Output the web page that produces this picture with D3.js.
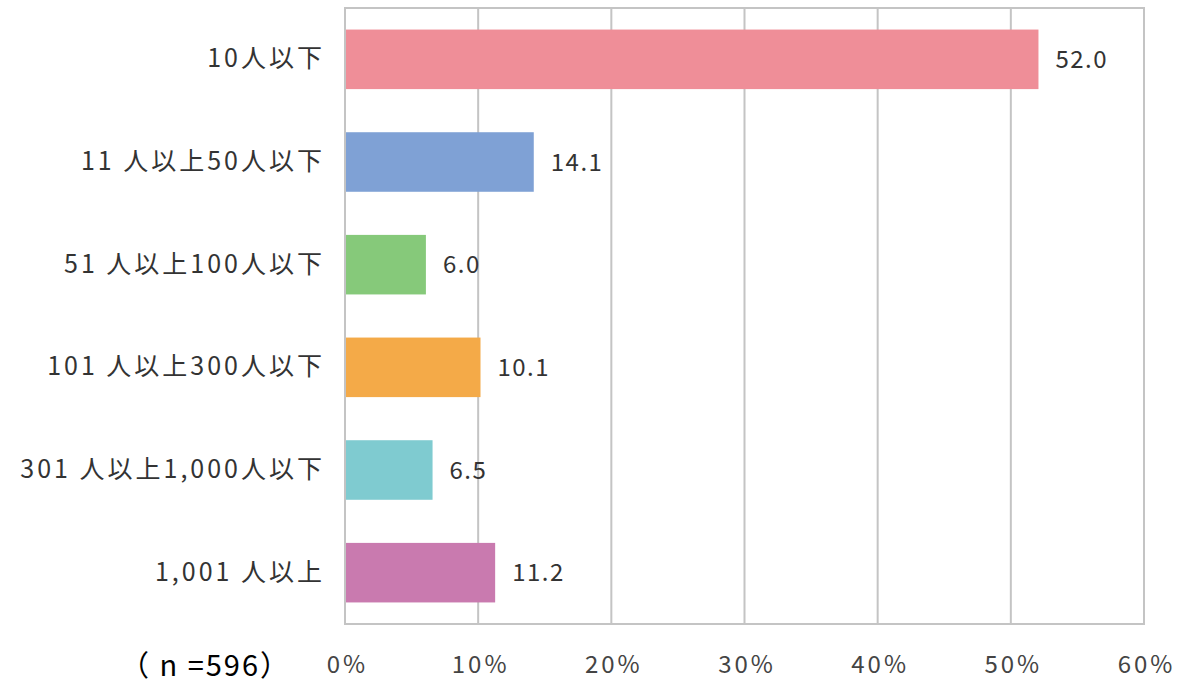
<!DOCTYPE html>
<html>
<head>
<meta charset="utf-8">
<title>従業員規模</title>
<script src="https://d3js.org/d3.v7.min.js"></script>
<style>
  body { margin: 0; background: #fff; }
  text { font-family: "Noto Sans CJK JP", "Noto Sans", sans-serif; }
</style>
</head>
<body>
<div id="output"></div>
<script>
var categories = ["10人以下", "11 人以上50人以下", "51 人以上100人以下", "101 人以上300人以下", "301 人以上1,000人以下", "1,001 人以上"];
var values = [52.0, 14.1, 6.0, 10.1, 6.5, 11.2];
var colors = ["#EF8E98", "#7FA1D5", "#86C97A", "#F4AA48", "#7FCBD0", "#C97AAF"];
var xTicks = [0, 10, 20, 30, 40, 50, 60];
var sampleNote = "（ n =596）";

var w = 1180, h = 687;
var margin = {top: 8, right: 36, bottom: 63, left: 345};
var wChart = w - margin.left - margin.right;   // 799
var hChart = h - margin.top - margin.bottom;   // 616

var svg = d3.select("#output").append("svg")
    .attr("width", w)
    .attr("height", h);

var chart = svg.append("g")
    .attr("transform", "translate(" + margin.left + "," + margin.top + ")");

var x = d3.scaleLinear().domain([0, 60]).range([0, wChart]);
var y = d3.scaleBand().domain(categories).range([0, hChart]).paddingInner(0.42).paddingOuter(0.21);

// grid lines
chart.selectAll(".grid")
    .data(xTicks)
    .enter()
    .append("line")
    .attr("class", "grid")
    .attr("x1", function(d){ return x(d); })
    .attr("x2", function(d){ return x(d); })
    .attr("y1", 0)
    .attr("y2", hChart)
    .attr("stroke", "#c4c4c4")
    .attr("stroke-width", 2);

// frame
chart.append("rect")
    .attr("x", 0).attr("y", 0)
    .attr("width", wChart).attr("height", hChart)
    .attr("fill", "none")
    .attr("stroke", "#c4c4c4")
    .attr("stroke-width", 2);

// bars
chart.selectAll(".bar")
    .data(values)
    .enter()
    .append("rect")
    .attr("class", "bar")
    .attr("x", x(0) + 1)
    .attr("y", function(d, i){ return y(categories[i]); })
    .attr("width", function(d){ return x(d) - x(0); })
    .attr("height", y.bandwidth())
    .attr("fill", function(d, i){ return colors[i]; });

// value labels
chart.selectAll(".val")
    .data(values)
    .enter()
    .append("text")
    .attr("class", "val")
    .attr("x", function(d){ return x(d) + 18; })
    .attr("y", function(d, i){ return y(categories[i]) + y.bandwidth() / 2; })
    .attr("dy", "0.36em")
    .attr("font-size", 24)
    .attr("letter-spacing", 1.5)
    .attr("fill", "#333")
    .text(function(d){ return d.toFixed(1); });

// category axis
var yAxis = d3.axisLeft(y).tickSize(0).tickPadding(20);
chart.append("g")
    .attr("class", "axis")
    .call(yAxis)
    .call(function(g){ g.select(".domain").remove(); })
    .selectAll("text")
    .attr("font-size", 25)
    .attr("letter-spacing", 3)
    .attr("fill", "#333");

// value axis
var xAxis = d3.axisBottom(x).tickValues(xTicks).tickSize(0).tickPadding(32)
    .tickFormat(function(d){ return d + "%"; });
chart.append("g")
    .attr("class", "axis")
    .attr("transform", "translate(0," + hChart + ")")
    .call(xAxis)
    .call(function(g){ g.select(".domain").remove(); })
    .selectAll("text")
    .attr("font-size", 24)
    .attr("letter-spacing", 3)
    .attr("dx", 2)
    .attr("fill", "#444");

// sample size note
svg.append("text")
    .attr("x", 120)
    .attr("y", 676)
    .attr("font-size", 29)
    .attr("letter-spacing", 2)
    .attr("fill", "#000")
    .text(sampleNote);
</script>
</body>
</html>
